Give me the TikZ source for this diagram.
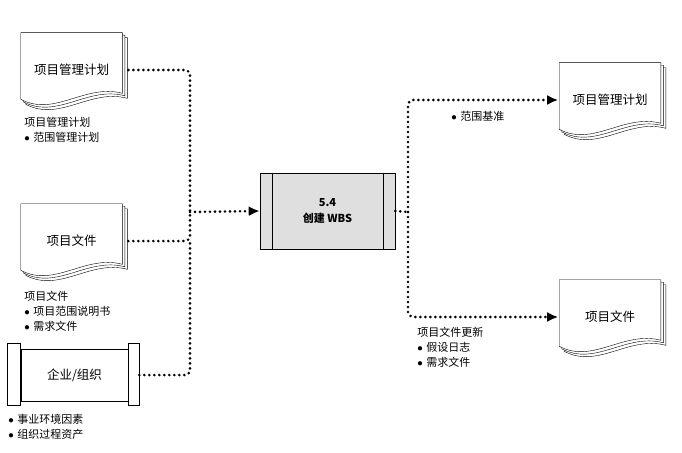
\documentclass[tikz,border=0pt]{standalone}
\usepackage{fontspec}
\setmainfont{Noto Sans CJK SC}
\usetikzlibrary{arrows.meta,backgrounds}

% stacked document sheets behind a doc node
\newcommand{\docstack}[1]{%
  \begin{scope}[on background layer]
    \foreach \s in {5,2.5,0}
      \filldraw[fill=white, transform canvas={shift={(\s pt,-\s pt)}}] (#1.north west) -- (#1.north east) -- ([yshift=14pt]#1.south east)
        .. controls ([xshift=-37pt,yshift=24pt]#1.south east) and ([xshift=34pt,yshift=-10pt]#1.south west) .. ([yshift=8pt]#1.south west) -- cycle;
  \end{scope}}
\newcommand{\bul}{\makebox[9pt][l]{$\bullet$}}

\begin{document}
\begin{tikzpicture}[x=1pt, y=-1pt, line width=0.6pt,
  doc/.style={minimum width=101pt, minimum height=74pt, inner sep=0pt, font=\fontsize{12.5}{15}\selectfont},
  proc/.style={draw, fill=gray!25, minimum width=135pt, minimum height=76pt, align=center, inner sep=0pt, font=\bfseries\fontsize{11}{16}\selectfont},
  ent/.style={draw, minimum width=107pt, minimum height=52pt, inner sep=0pt, font=\fontsize{12.5}{15}\selectfont},
  lbl/.style={anchor=north west, align=left, inner sep=0pt, font=\fontsize{11}{15}\selectfont},
  dotl/.style={line width=2.9pt, line cap=round, dash pattern=on 0pt off 5pt, rounded corners=5pt},
  arr/.style={-{Latex[length=11pt,width=10pt]}}]
\useasboundingbox (0,0) rectangle (682,452);
% inputs
\node[doc] (pmp) at (71.5,70) {项目管理计划}; \docstack{pmp}
\node[doc] (pdoc) at (71.5,241) {项目文件}; \docstack{pdoc}
\node[ent] (org) at (74.5,375) {企业/组织};
\draw ([yshift=5pt]org.north west) rectangle ([xshift=-13pt,yshift=-4pt]org.south west);
\draw ([yshift=5pt]org.north east) rectangle ([xshift=11pt,yshift=-4pt]org.south east);
\node[lbl] (l1) at (24,117) {项目管理计划\\\bul 范围管理计划};
\node[lbl] (l2) at (24,291) {项目文件\\\bul 项目范围说明书\\\bul 需求文件};
\node[lbl] (l3) at (8,414) {\bul 事业环境因素\\\bul 组织过程资产};
% process
\node[proc] (wbs) at (327.5,211) {5.4\\创建 WBS};
\draw ([xshift=13pt]wbs.north west) -- ([xshift=13pt]wbs.south west);
\draw ([xshift=-12pt]wbs.north east) -- ([xshift=-12pt]wbs.south east);
% outputs
\node[doc] (opmp) at (610,100) {项目管理计划}; \docstack{opmp}
\node[doc] (odoc) at (610,317) {项目文件}; \docstack{odoc}
\node[lbl] (l4) at (451,111) {\bul 范围基准};
\node[lbl] (l5) at (417,327) {项目文件更新\\\bul 假设日志\\\bul 需求文件};
% connectors
\coordinate (in) at (190,212);
\coordinate (in2) at (190,241);
\coordinate (out) at (408,212);
\draw[dotl] ([xshift=6pt]pmp.east) -| (in);
\draw[dotl] ([xshift=6pt]pdoc.east) -| (in);
\draw[dotl] ([xshift=11pt]org.east) -| (in2);
\draw[dotl, arr] (in) -- (wbs.west);
\draw[dotl] (wbs.east) -- (out);
\draw[dotl, arr] (out) |- ([xshift=-1pt]opmp.west);
\draw[dotl, arr] (out) |- ([xshift=-1pt]odoc.west);
\end{tikzpicture}
\end{document}
